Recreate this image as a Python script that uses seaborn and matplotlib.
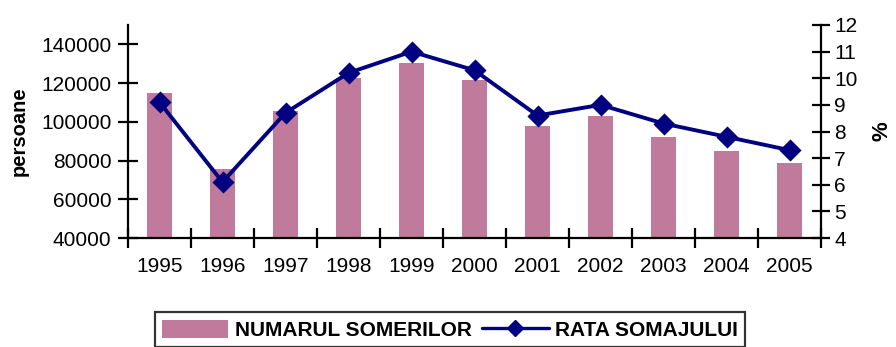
import matplotlib
matplotlib.use("Agg")
import matplotlib.pyplot as plt
from matplotlib.patches import Patch
from matplotlib.lines import Line2D
from matplotlib.ticker import FixedLocator, NullFormatter
import seaborn as sns
import pandas as pd

# Unemployment data, 1995-2005
years = ["1995", "1996", "1997", "1998", "1999", "2000",
         "2001", "2002", "2003", "2004", "2005"]
unemployed = [115000, 75500, 105700, 122700, 130500, 121800,
              97700, 103000, 92000, 84800, 78700]
rate = [9.1, 6.1, 8.7, 10.2, 11.0, 10.3, 8.6, 9.0, 8.3, 7.8, 7.3]

bar_label = "NUMARUL SOMERILOR"
line_label = "RATA SOMAJULUI"

bar_color = "#C07A9B"
line_color = "#000080"

sns.set_theme(style="white")
plt.rcParams["font.family"] = ["Liberation Sans", "DejaVu Sans"]
plt.rcParams.update({"text.color": "black", "axes.labelcolor": "black",
                     "xtick.color": "black", "ytick.color": "black"})

df = pd.DataFrame({"an": years, "persoane": unemployed, "rata": rate})

fig = plt.figure(figsize=(8.96, 3.47), dpi=100)
ax = fig.add_axes([128 / 896, 1 - 238 / 347, (821 - 128) / 896, (238 - 25) / 347])

sns.barplot(data=df, x="an", y="persoane", color=bar_color, width=0.41,
            saturation=1, linewidth=0, ax=ax, zorder=2)
yt = [40000, 60000, 80000, 100000, 120000, 140000]
ax.set_ylim(40000, 150000)
ax.set_yticks(yt)
ax.set_yticklabels([str(v) for v in yt])
ax.set_xlim(-0.5, len(years) - 0.5)

ax2 = ax.twinx()
sns.pointplot(data=df, x="an", y="rata", color=line_color, markers="D",
              markersize=9.5, linewidth=2.8, ax=ax2)
ax2.set_ylim(4, 12)
ax2.set_yticks(range(4, 13))
ax2.set_xlim(-0.5, len(years) - 0.5)

ax.set_xlabel("")
ax.set_ylabel("persoane", fontsize=14.5, fontweight="bold", labelpad=9)
ax2.set_ylabel("%", fontsize=16, fontweight="bold", labelpad=10)
ax2.set_xlabel("")

for a in (ax, ax2):
    for s in a.spines.values():
        s.set_color("black")
        s.set_linewidth(1.6)
    a.spines["top"].set_visible(False)

ax.spines["right"].set_visible(False)
ax2.spines["left"].set_visible(False)
ax2.spines["bottom"].set_visible(False)

# category separators as ticks on the x axis
ax.xaxis.set_minor_locator(FixedLocator([i - 0.5 for i in range(len(years) + 1)]))
ax.xaxis.set_minor_formatter(NullFormatter())
ax.tick_params(axis="x", which="major", length=0, pad=14, labelsize=15)
ax.tick_params(axis="x", which="minor", direction="inout", length=15, width=1.6,
               color="black", bottom=True)
ax.tick_params(axis="y", direction="inout", length=14, width=1.6, color="black",
               left=True, pad=5, labelsize=15)
ax2.tick_params(axis="y", direction="inout", length=13, width=1.6, color="black",
                right=True, pad=3, labelsize=15)

handles = [Patch(facecolor=bar_color, edgecolor="none"),
           Line2D([], [], color=line_color, linewidth=2.4, marker="D", markersize=8.5)]
leg = fig.legend(handles, [bar_label, line_label], loc="upper center",
                 bbox_to_anchor=(0.502, 1 - 302 / 347), ncol=2, frameon=True,
                 fancybox=False, edgecolor="black", handlelength=3.2,
                 handleheight=1.0, handletextpad=0.3, columnspacing=0.5,
                 borderpad=0.35, prop={"weight": "bold", "size": 15})
leg.get_frame().set_linewidth(1.6)

fig.savefig("out.png", dpi=100, facecolor="white")
